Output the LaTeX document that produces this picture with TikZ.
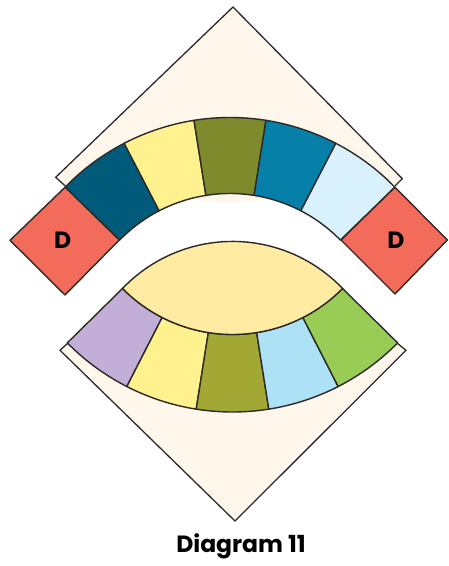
\documentclass[tikz,border=0pt]{standalone}
\usepackage{fontspec}
\setmainfont{Poppins}
\definecolor{cream}{HTML}{FFF7EC}
\definecolor{edgeink}{HTML}{2B2A29}
\definecolor{dred}{HTML}{F36B5A}
\definecolor{navy}{HTML}{005B7A}
\definecolor{butter}{HTML}{FEF18E}
\definecolor{olive}{HTML}{7E8A2C}
\definecolor{teal}{HTML}{0680A8}
\definecolor{ice}{HTML}{D9F1FD}
\definecolor{lilac}{HTML}{C2AED6}
\definecolor{moss}{HTML}{A2A833}
\definecolor{sky}{HTML}{ADE1F5}
\definecolor{leaf}{HTML}{98CC54}
\definecolor{lens}{HTML}{FFEBA1}

\begin{document}
\begin{tikzpicture}[
    x=1pt, y=1pt,
    patch/.style={draw=edgeink, line width=1.4pt, line join=round},
    bg/.style={fill=cream, draw=none},
    rim/.style={draw=edgeink, line width=1.3pt, line join=miter},
    lbl/.style={font=\fontsize{23.5}{24}\selectfont\bfseries, text=black},
]
\useasboundingbox (0,0) rectangle (448,566);

% ===== TOP: background corner =====
\fill[bg] (55.7,388.7) -- (233,559) -- (402.3,387.3) -- (395,380) -- (300,356)
    -- (268,367) .. controls (245,363) and (215,363) .. (192,367) -- (160,356) -- (65.3,380) -- cycle;
\draw[rim] (65.3,380) -- (55.7,388.7) -- (233,559) -- (402.3,387.3) -- (395,380);

% ===== TOP: arc of patches =====
\begin{scope}[shift={(230,218.5)}]
\foreach \a/\b/\c in {135.8/117.4/navy, 117.4/99/butter, 99/81/olive,
    81/62.6/teal, 62.6/44.2/ice}
    \filldraw[patch, fill=\c] (\a:230) arc[start angle=\a, end angle=\b, radius=230]
        -- (\b:154) arc[start angle=\b, end angle=\a, radius=154] -- cycle;
\end{scope}

% ===== corner squares =====
\filldraw[patch, fill=dred] (65.1,378.8) -- (119.3,326) -- (65,271) -- (10,325.7) -- cycle;
\filldraw[patch, fill=dred] (394.9,378.8) -- (341,326) -- (395,272) -- (447.3,326) -- cycle;
\node[lbl] (dleft) at (62.7,325.7) {D};
\node[lbl] (dright) at (396,325.7) {D};

% ===== BOTTOM: background corner =====
\fill[bg] (67.7,222.7) -- (60,215.7) -- (235,45) -- (406,215.7) -- (397.3,222.7)
    -- (338,180) -- (232.5,165) -- (127,180) -- cycle;
\draw[rim] (67.7,222.7) -- (60,215.7) -- (235,45) -- (406,215.7) -- (397.3,222.7);

% ===== BOTTOM: arc of patches =====
\begin{scope}[shift={(232.5,386)}]
\foreach \a/\b/\c in {224.6/242.9/lilac, 242.9/261/butter, 261/279/moss,
    279/297.1/sky, 297.1/315.4/leaf}
    \filldraw[patch, fill=\c] (\a:232) arc[start angle=\a, end angle=\b, radius=232]
        -- (\b:154.5) arc[start angle=\b, end angle=\a, radius=154.5] -- cycle;

% lens in the middle
\filldraw[patch, fill=lens] (224.6:154.5)
    arc[start angle=136.3, end angle=43.7, radius=152.2]
    arc[start angle=315.4, end angle=224.6, radius=154.5] -- cycle;
\end{scope}

\node[lbl] (caption) at (241,19.5) {Diagram 11};

\end{tikzpicture}
\end{document}
